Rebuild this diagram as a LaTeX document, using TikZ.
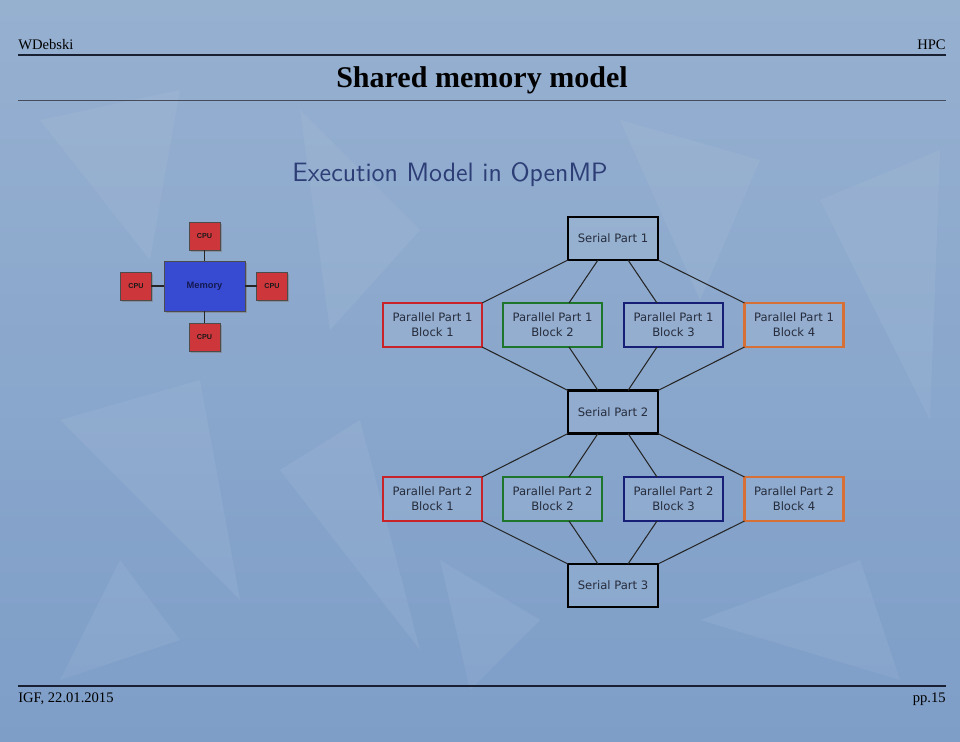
\documentclass[tikz,border=0pt]{standalone}
\usepackage{fontspec}
\setmainfont{Liberation Serif}
\newfontfamily\dejavu{DejaVu Sans}
\newfontfamily\arial{Liberation Sans}
\usepackage{xcolor}
\usepackage{tikz}
\usetikzlibrary{calc, shadows}

\definecolor{bgtop}{RGB}{150,176,208}
\definecolor{bgbot}{RGB}{126,158,200}
\definecolor{rulecol}{RGB}{25,32,50}
\definecolor{headblue}{RGB}{45,62,118}
\definecolor{boxtext}{RGB}{38,44,60}
\definecolor{blkred}{RGB}{200,35,40}
\definecolor{blkgreen}{RGB}{30,118,45}
\definecolor{blknavy}{RGB}{22,30,118}
\definecolor{blkorange}{RGB}{215,112,55}
\definecolor{cpured}{RGB}{205,55,60}
\definecolor{memblue}{RGB}{55,75,210}
\definecolor{memtext}{RGB}{20,25,80}

\begin{document}
\begin{tikzpicture}[x=0.02cm, y=-0.02cm,
    serial/.style={draw=black, line width=1.2pt, fill=white, fill opacity=0.08,
        text opacity=1, minimum width=1.8cm, minimum height=0.86cm, outer sep=0,
        text=boxtext, font=\dejavu\fontsize{6.6}{8.5}\selectfont},
    block/.style={serial, line width=1.4pt, minimum width=1.98cm, minimum height=0.88cm, align=center},
    link/.style={line width=0.6pt, black!85},
    cpu/.style={draw=black!70, fill=cpured, minimum width=0.62cm, minimum height=0.56cm,
        outer sep=0, drop shadow={shadow xshift=1pt, shadow yshift=-1pt, opacity=0.6},
        font=\arial\bfseries\fontsize{4.1}{4.5}\selectfont, text=black!90},
    wire/.style={line width=0.9pt, black!85},
    shard/.style={fill=white, opacity=0.06}]
    % Tło slajdu
    \shade[top color=bgtop, bottom color=bgbot] (0,0) rectangle (960,742);
    \foreach \p in {{(40,120) -- (180,90) -- (150,260) -- cycle},
                    {(300,110) -- (420,230) -- (330,330) -- cycle},
                    {(620,120) -- (760,160) -- (700,300) -- cycle},
                    {(820,200) -- (940,150) -- (930,420) -- cycle},
                    {(60,420) -- (200,380) -- (240,600) -- cycle},
                    {(280,470) -- (360,420) -- (420,650) -- cycle},
                    {(700,620) -- (860,560) -- (900,680) -- cycle},
                    {(120,560) -- (180,640) -- (60,680) -- cycle},
                    {(440,560) -- (540,620) -- (470,690) -- cycle}} {
        \fill[shard] \p;
    }
    \useasboundingbox (0,0) rectangle (960,742);

    % Nagłówek i stopka
    \node[anchor=base west, inner sep=0, font=\fontsize{8.3}{10}\selectfont] (author) at (18,50) {WDebski};
    \node[anchor=base east, inner sep=0, font=\fontsize{8.3}{10}\selectfont] (topic) at (946,50) {HPC};
    \draw[rulecol, line width=1.1pt] (18,55) -- (946,55);
    \node[anchor=base, inner sep=0, font=\bfseries\fontsize{17.1}{20}\selectfont] (title) at (482,88) {Shared memory model};
    \draw[rulecol!80, line width=0.5pt] (18,100) -- (946,100);
    \draw[rulecol, line width=1.1pt] (18,686) -- (946,686);
    \node[anchor=base west, inner sep=0, font=\fontsize{8.3}{10}\selectfont] (place) at (18,703) {IGF, 22.01.2015};
    \node[anchor=base east, inner sep=0, font=\fontsize{8.3}{10}\selectfont] (page) at (946,703) {pp.15};

    \node[anchor=base, inner sep=0, text=headblue, font=\sffamily\fontsize{15.1}{17}\selectfont] (exec) at (450,182) {Execution Model in OpenMP};

    % Pamięć wspólna i procesory
    \node[draw=black!70, fill=memblue, minimum width=1.62cm, minimum height=1cm, outer sep=0,
        drop shadow={shadow xshift=1pt, shadow yshift=-1pt, opacity=0.6},
        font=\arial\bfseries\fontsize{5.3}{6}\selectfont, text=memtext] (mem) at (204.5,286) {Memory};
    \node[cpu] (cpuN) at (204.5,236) {CPU};
    \node[cpu] (cpuW) at (136,286) {CPU};
    \node[cpu] (cpuE) at (272,286) {CPU};
    \node[cpu] (cpuS) at (204.5,337) {CPU};
    \foreach \c in {cpuN, cpuW, cpuE, cpuS} {
        \draw[wire] (mem) -- (\c);
    }

    % Części szeregowe
    \node[serial] (s1) at (613,238.5) {Serial Part 1};
    \node[serial] (s2) at (613,412) {Serial Part 2};
    \node[serial] (s3) at (613,585.5) {Serial Part 3};

    % Bloki równoległe
    \foreach \p/\y in {1/325, 2/499} {
        \node[block, draw=blkred] (b\p1) at (432.5,\y) {Parallel Part \p\\Block 1};
        \node[block, draw=blkgreen] (b\p2) at (552.5,\y) {Parallel Part \p\\Block 2};
        \node[block, draw=blknavy] (b\p3) at (673.5,\y) {Parallel Part \p\\Block 3};
        \node[block, draw=blkorange] (b\p4) at (794,\y) {Parallel Part \p\\Block 4};
    }

    % Połączenia
    \foreach \a/\p/\b in {s1/1/s2, s2/2/s3} {
        \draw[link] (\a.south west) -- (b\p1.north east);
        \draw[link] ($(\a.south west)!1/3!(\a.south east)$) -- ($(b\p2.north west)!2/3!(b\p2.north east)$);
        \draw[link] ($(\a.south west)!2/3!(\a.south east)$) -- ($(b\p3.north west)!1/3!(b\p3.north east)$);
        \draw[link] (\a.south east) -- (b\p4.north west);
        \draw[link] (b\p1.south east) -- (\b.north west);
        \draw[link] ($(b\p2.south west)!2/3!(b\p2.south east)$) -- ($(\b.north west)!1/3!(\b.north east)$);
        \draw[link] ($(b\p3.south west)!1/3!(b\p3.south east)$) -- ($(\b.north west)!2/3!(\b.north east)$);
        \draw[link] (b\p4.south west) -- (\b.north east);
    }
\end{tikzpicture}
\end{document}
